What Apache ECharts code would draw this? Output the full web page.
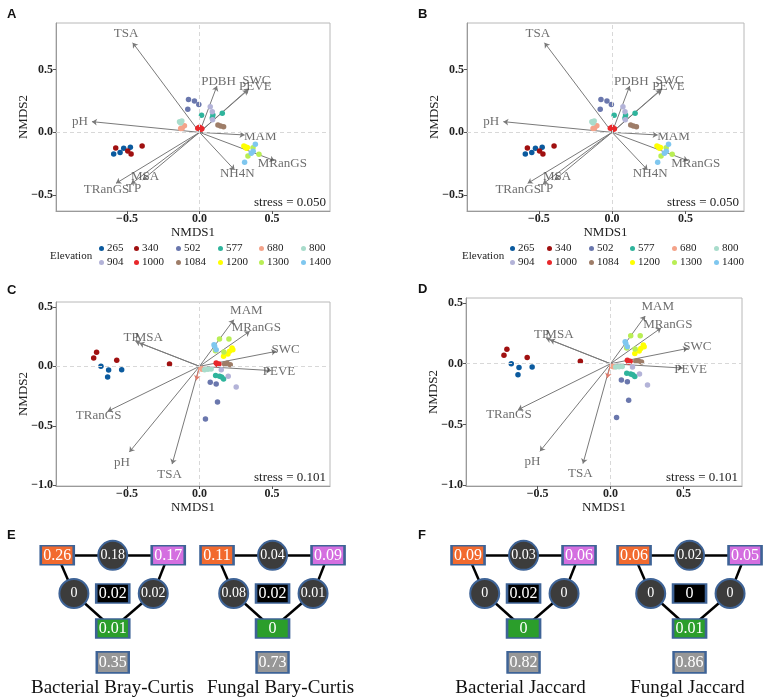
<!DOCTYPE html>
<html><head><meta charset="utf-8">
<script src="https://cdn.jsdelivr.net/npm/echarts@6/dist/echarts.min.js"></script>
<style>html,body{margin:0;padding:0;background:#fff}#c{width:767px;height:700px}</style>
</head><body><div id="c"></div><script>
// ---------------- DATA ----------------
const ELEVATIONS = ['265','340','502','577','680','800','904','1000','1084','1200','1300','1400'];

// Bacterial NMDS site scores (panels A and B)
const BAC_ELEV  = ['265','265','265','265','340','340','340','340','502','502','502','502','577','577','577','577','680','680','680','800','800','800','904','904','904','1000','1000','1000','1000','1084','1084','1084','1200','1200','1200','1200','1300','1300','1300','1400','1400','1400','1400'];
const BAC_NMDS1 = [-0.592,-0.548,-0.523,-0.477,-0.578,-0.495,-0.472,-0.396,-0.076,-0.035,-0.005,-0.081,0.014,0.092,0.157,0.088,-0.120,-0.104,-0.130,-0.138,-0.122,-0.130,0.074,0.088,0.090,-0.012,0.000,0.016,0.010,0.127,0.145,0.166,0.306,0.323,0.315,0.330,0.369,0.334,0.410,0.385,0.357,0.311,0.370];
const BAC_NMDS2 = [-0.172,-0.161,-0.127,-0.119,-0.124,-0.148,-0.172,-0.108,0.262,0.249,0.222,0.183,0.135,0.138,0.151,0.115,0.032,0.053,0.030,0.085,0.090,0.075,0.204,0.164,0.100,0.032,0.040,0.029,0.025,0.058,0.050,0.045,-0.108,-0.127,-0.115,-0.120,-0.122,-0.188,-0.175,-0.095,-0.167,-0.238,-0.150];

// Bacterial env fit arrows
const BAC_ENV      = ['TSA','PDBH','SWC','PEVE','pH','MAM','MRanGS','NH4N','MSA','TP','TRanGS'];
const BAC_ENV_X    = [-0.461,0.120,0.341,0.334,-0.742,0.311,0.518,0.242,-0.392,-0.472,-0.576];
const BAC_ENV_Y    = [0.712,0.368,0.349,0.336,0.085,-0.021,-0.225,-0.299,-0.378,-0.410,-0.405];
const BAC_LABEL_X  = [-0.507,0.131,0.392,0.385,-0.825,0.419,0.571,0.260,-0.376,-0.454,-0.641];
const BAC_LABEL_Y  = [0.786,0.407,0.415,0.362,0.085,-0.034,-0.246,-0.331,-0.352,-0.444,-0.458];

// Fungal NMDS site scores (panels C and D)
const FUN_ELEV  = ['265','265','265','265','340','340','340','340','502','502','502','502','577','577','577','577','680','680','800','800','800','904','904','904','1000','1000','1000','1084','1084','1084','1200','1200','1200','1200','1200','1300','1300','1300','1300','1400','1400','1400'];
const FUN_NMDS1 = [-0.680,-0.627,-0.537,-0.634,-0.730,-0.710,-0.571,-0.207,0.074,0.115,0.124,0.041,0.111,0.138,0.166,0.152,0.010,0.020,0.035,0.058,0.080,0.198,0.253,0.150,0.115,0.134,0.125,0.173,0.212,0.190,0.224,0.207,0.196,0.166,0.230,0.138,0.203,0.168,0.110,0.104,0.115,0.100];
const FUN_NMDS2 = [0.000,-0.031,-0.028,-0.090,0.070,0.118,0.050,0.020,-0.134,-0.148,-0.300,-0.443,-0.078,-0.084,-0.106,-0.090,-0.020,-0.025,-0.028,-0.025,-0.022,-0.084,-0.174,-0.028,0.028,0.020,0.015,0.020,0.014,0.025,0.154,0.126,0.104,0.084,0.140,0.230,0.230,0.120,0.130,0.168,0.140,0.180];

// Fungal env fit arrows
const FUN_ENV      = ['MAM','MRanGS','SWC','PEVE','TP','MSA','TRanGS','pH','TSA'];
const FUN_ENV_X    = [0.237,0.346,0.530,0.495,-0.442,-0.415,-0.634,-0.484,-0.189];
const FUN_ENV_Y    = [0.392,0.294,0.126,-0.036,0.210,0.196,-0.378,-0.720,-0.821];
const FUN_LABEL_X  = [0.323,0.392,0.594,0.548,-0.472,-0.350,-0.696,-0.535,-0.207];
const FUN_LABEL_Y  = [0.468,0.322,0.140,-0.048,0.238,0.238,-0.415,-0.807,-0.905];
const FUN_MINOR_X  = [-0.023];
const FUN_MINOR_Y  = [-0.118];

const STRESS_BAC = '0.050';
const STRESS_FUN = '0.101';

const X_TICKS    = [-0.5, 0, 0.5];
const Y_TICKS_AB = [-0.5, 0, 0.5];
const Y_TICKS_CD = [-1.0, -0.5, 0, 0.5];

// Variation partitioning values: [topLeft, topMid, topRight, midLeft, centre, midRight, bottom, residual]
const VP_BAC_BC  = [0.26, 0.18, 0.17, 0, 0.02, 0.02, 0.01, 0.35];
const VP_FUN_BC  = [0.11, 0.04, 0.09, 0.08, 0.02, 0.01, 0, 0.73];
const VP_BAC_JAC = [0.09, 0.03, 0.06, 0, 0.02, 0, 0, 0.82];
const VP_FUN_JAC = [0.06, 0.02, 0.05, 0, 0, 0, 0.01, 0.86];
const VP_TITLES  = ['Bacterial Bray-Curtis', 'Fungal Bary-Curtis', 'Bacterial Jaccard', 'Fungal Jaccard'];

// ---------------- STYLE / LAYOUT ----------------
const ELEV_COLORS = ['#0b5a9e','#a01010','#6a77ad','#2fb49c','#f4a38a','#a8dccb','#b3b3d8','#e8282b','#9e7d68','#ffff00','#b9ee55','#7fc7ef'];
const SERIF = "'Liberation Serif','Times New Roman',serif";
const SANS = "'Liberation Sans',Arial,sans-serif";

// diagram node layout (structural)
const NODE_LX = [0, 1, 2, 0.3, 1, 1.73, 1, 1];
const NODE_LY = [3, 3, 3, 1.93, 1.93, 1.93, 0.95, 0];
const NODE_FILL = ['#f26a2e', '#3c3c3c', '#d46fe0', '#3c3c3c', '#000000', '#3c3c3c', '#2b9e2b', '#979797'];
const NODE_SHAPE = ['rect','circle','rect','circle','rect','circle','rect','rect'];
const LINKS = [[0,1],[1,2],[0,3],[3,6],[2,5],[5,6]];

const PANELS = [
  {grid:{left:56, top:23, width:274, height:188}, yMin:-0.625, yMax:0.869, yTicks:Y_TICKS_AB, kind:'bac', legendLeft:50, legendCols:[99,134,176,218,259,301], stressX:326, stressY:203},
  {grid:{left:467, top:23, width:277, height:188}, yMin:-0.625, yMax:0.869, yTicks:Y_TICKS_AB, kind:'bac', legendLeft:462, legendCols:[510,547,589,630,672,714], stressX:739, stressY:203},
  {grid:{left:56, top:302, width:274, height:184}, yMin:-1.005, yMax:0.54, yTicks:Y_TICKS_CD, kind:'fun', stressX:326, stressY:478},
  {grid:{left:466, top:298, width:276, height:188}, yMin:-1.005, yMax:0.54, yTicks:Y_TICKS_CD, kind:'fun', stressX:738, stressY:478}
];
const DIAGRAMS = [
  {vals:VP_BAC_BC,  left:29.5,  title:VP_TITLES[0], tx:107.5},
  {vals:VP_FUN_BC,  left:189.3, title:VP_TITLES[1], tx:275.5},
  {vals:VP_BAC_JAC, left:440.3, title:VP_TITLES[2], tx:515.5},
  {vals:VP_FUN_JAC, left:606.3, title:VP_TITLES[3], tx:682.5}
];

function fmt(v){ if (Math.abs(v) < 1e-9) return '0.0'; return (v < 0 ? '\u2212' : '') + Math.abs(v).toFixed(1); }

const grids = [], xAxes = [], yAxes = [], series = [], legends = [], graphics = [], titles = [];

PANELS.forEach((p, i) => {
  grids.push(Object.assign({show:true, borderColor:'#b8b8b8', borderWidth:1, backgroundColor:'#fff', containLabel:false, outerBoundsMode:'none'}, p.grid));
  xAxes.push({gridIndex:i, type:'value', min:-0.99, max:0.90,
    axisLine:{show:true, onZero:false, lineStyle:{color:'#9a9a9a'}},
    axisTick:{show:true, customValues:X_TICKS, length:3, lineStyle:{color:'#555'}},
    axisLabel:{customValues:X_TICKS, formatter:fmt, margin:2, fontFamily:SERIF, fontWeight:'bold', fontSize:12, color:'#222'},
    splitLine:{show:false},
    name:'NMDS1', nameLocation:'middle', nameGap:10, nameTextStyle:{fontFamily:SERIF, fontSize:13, color:'#222'}});
  yAxes.push({gridIndex:i, type:'value', min:p.yMin, max:p.yMax,
    axisLine:{show:true, onZero:false, lineStyle:{color:'#9a9a9a'}},
    axisTick:{show:true, customValues:p.yTicks, length:3, lineStyle:{color:'#555'}},
    axisLabel:{customValues:p.yTicks, formatter:fmt, margin:3, fontFamily:SERIF, fontWeight:'bold', fontSize:12, color:'#222'},
    splitLine:{show:false},
    name:'NMDS2', nameLocation:'middle', nameRotate:90, nameGap:26, nameMoveOverlap:false,
    nameTextStyle:{fontFamily:SERIF, fontSize:13, color:'#222'}});

  const bac = p.kind === 'bac';
  const E = bac ? BAC_ELEV : FUN_ELEV, X = bac ? BAC_NMDS1 : FUN_NMDS1, Y = bac ? BAC_NMDS2 : FUN_NMDS2;
  const names = bac ? BAC_ENV : FUN_ENV, ax = bac ? BAC_ENV_X : FUN_ENV_X, ay = bac ? BAC_ENV_Y : FUN_ENV_Y;
  const lx = bac ? BAC_LABEL_X : FUN_LABEL_X, ly = bac ? BAC_LABEL_Y : FUN_LABEL_Y;

  // arrows
  series.push({type:'lines', coordinateSystem:'cartesian2d', xAxisIndex:i, yAxisIndex:i, silent:true, z:2,
    symbol:['none','arrow'], symbolSize:5,
    lineStyle:{color:'#7a7a7a', width:1, opacity:1},
    data: names.map((n,k)=>({coords:[[0,0],[ax[k],ay[k]]]}))});
  if (!bac) {
    series.push({type:'lines', coordinateSystem:'cartesian2d', xAxisIndex:i, yAxisIndex:i, silent:true, z:2,
      symbol:['none','arrow'], symbolSize:5,
      lineStyle:{color:'#e07a6a', width:1, opacity:1},
      data: FUN_MINOR_X.map((v,k)=>({coords:[[0,0],[v,FUN_MINOR_Y[k]]]}))});
  }
  // zero lines + arrow labels
  series.push({type:'scatter', xAxisIndex:i, yAxisIndex:i, silent:true, z:4, symbolSize:0,
    label:{show:true, position:'inside', formatter:(q)=>q.name, fontFamily:SERIF, fontSize:13, color:'#4a4a4a'},
    data: names.map((n,k)=>({name:n, value:[lx[k], ly[k]]})),
    markLine:{silent:true, symbol:'none', label:{show:false}, animation:false,
      lineStyle:{type:[4,3], color:'#d8d8d8', width:1}, data:[{xAxis:0},{yAxis:0}]}});
  // points
  ELEVATIONS.forEach((el, e) => {
    const pts = [];
    E.forEach((v,k)=>{ if (v === el) pts.push([X[k], Y[k]]); });
    series.push({type:'scatter', name:el, xAxisIndex:i, yAxisIndex:i, silent:true, z:3, symbolSize:5.5,
      itemStyle:{color:ELEV_COLORS[e], opacity:1}, data:pts});
  });

  graphics.push({type:'text', x:p.stressX, y:p.stressY,
    style:{text:'stress = ' + (bac ? STRESS_BAC : STRESS_FUN), fontFamily:SERIF, fontSize:13, fill:'#222', textAlign:'right', textVerticalAlign:'middle'}});
  // legends
  if (p.legendCols) {
    graphics.push({type:'text', x:p.legendLeft, y:256, style:{text:'Elevation', fontFamily:SERIF, fontSize:11, fill:'#222', textVerticalAlign:'middle'}});
    p.legendCols.forEach((cx, c) => {
      legends.push({orient:'vertical', left:cx, top:243, itemWidth:5, itemHeight:5, itemGap:3, padding:0,
        icon:'circle', selectedMode:false,
        textStyle:{fontFamily:SERIF, fontSize:11, color:'#222', padding:[0,0,0,-2]},
        data:[ELEVATIONS[c], ELEVATIONS[c+6]]});
    });
  }
});

// panel letters
[['A',7,8],['B',418,8],['C',7,284],['D',418,283],['E',7,529],['F',418,529]].forEach(l=>{
  graphics.push({type:'text', x:l[1], y:l[2], style:{text:l[0], fontFamily:SANS, fontWeight:'bold', fontSize:13, fill:'#111'}});
});

// variation partitioning diagrams
DIAGRAMS.forEach((d, k) => {
  const gi = 4 + k;
  grids.push({left:d.left, top:537.5, width:166.5, height:142.7, show:false, containLabel:false, outerBoundsMode:'none'});
  xAxes.push({gridIndex:gi, type:'value', min:-0.5, max:2.5, show:false, splitLine:{show:false}});
  yAxes.push({gridIndex:gi, type:'value', min:-0.5, max:3.5, show:false, splitLine:{show:false}});
  const nodes = d.vals.map((v, j) => {
    const isRect = NODE_SHAPE[j] === 'rect';
    return {name:'n'+j, value:[NODE_LX[j], NODE_LY[j]],
      symbol:NODE_SHAPE[j],
      symbolSize: isRect ? (j===7 ? [32,21] : [33,19]) : 29,
      itemStyle:{color:NODE_FILL[j], borderColor:'#3e6396', borderWidth:2,
        decal: j===7 ? {symbol:'rect', symbolSize:0.5, color:'rgba(255,255,255,0.35)', dashArrayX:[1,1], dashArrayY:[1,1], rotation:0} : undefined},
      label:{show:true, position:'inside', formatter:String(v), color:'#fff',
        fontFamily:SERIF, fontSize: isRect ? 16 : 14}};
  });
  series.push({type:'graph', coordinateSystem:'cartesian2d', xAxisIndex:gi, yAxisIndex:gi, silent:true, z:5,
    data:nodes, links:LINKS.map(l=>({source:'n'+l[0], target:'n'+l[1]})),
    lineStyle:{color:'#000', width:2.5, opacity:1, curveness:0},
    edgeSymbol:['none','none']});
  titles.push({text:d.title, left:d.tx, top:674, textAlign:'center',
    textStyle:{fontFamily:SERIF, fontSize:19, fontWeight:'normal', color:'#111'}});
});

const option = {
  animation:false,
  backgroundColor:'#fff',
  title: titles,
  grid: grids, xAxis: xAxes, yAxis: yAxes,
  legend: legends,
  graphic: graphics,
  series: series
};
const chart = echarts.init(document.getElementById('c'));
chart.setOption(option);
</script></body></html>
